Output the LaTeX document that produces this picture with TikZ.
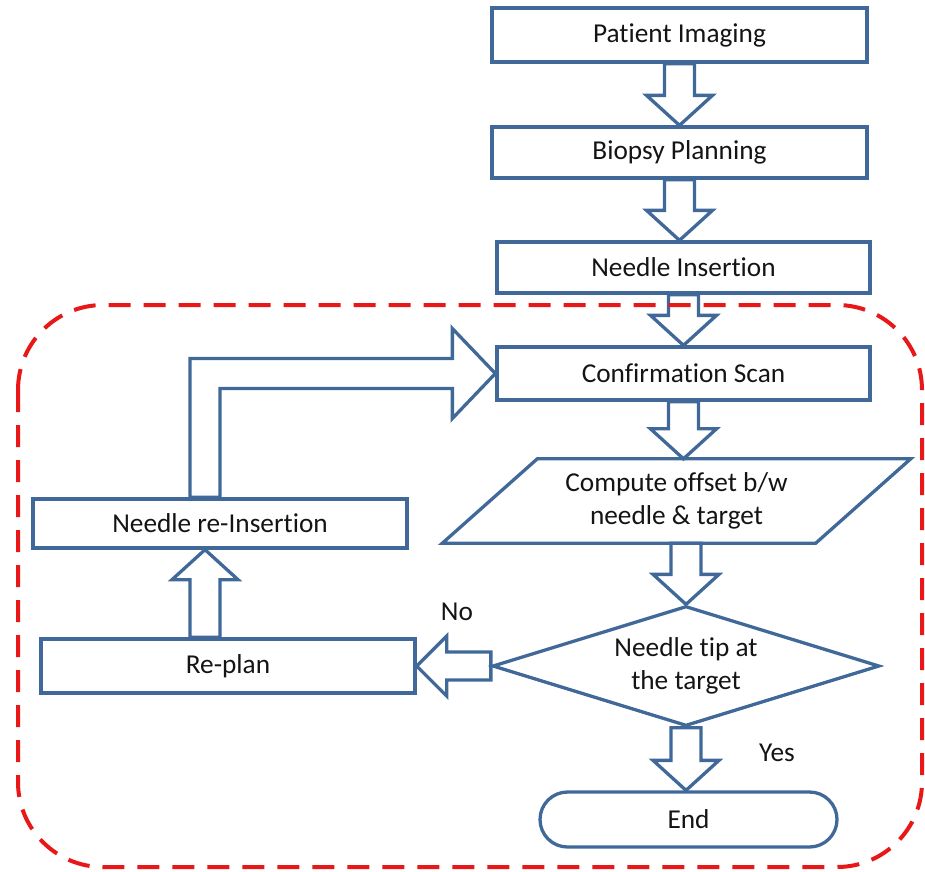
\documentclass[tikz,border=0pt]{standalone}
\usepackage{fontspec}
\setmainfont{Carlito}[Ligatures=NoCommon]
\usetikzlibrary{shapes.geometric,shapes.misc,calc}
\definecolor{fcblue}{RGB}{64,104,152}
\definecolor{fcred}{RGB}{232,24,24}
\definecolor{fctext}{RGB}{20,20,20}
\pgfdeclarelayer{bg}
\pgfsetlayers{bg,main}
\newcommand\downblk[2]{%
  \draw[blk] let \p1=#1, \p2=#2 in
    (\x1-15pt,\y1) -- (\x1-15pt,\y2+30pt) -- (\x1-33pt,\y2+30pt) -- (\x1,\y2)
    -- (\x1+33pt,\y2+30pt) -- (\x1+15pt,\y2+30pt) -- (\x1+15pt,\y1) -- cycle;}
\begin{document}
\begin{tikzpicture}[x=1pt,y=-1pt,
  font=\fontsize{27.3}{33}\selectfont, text=fctext,
  box/.style={draw=fcblue, line width=3.3pt, rectangle, inner sep=0pt, align=center},
  blk/.style={draw=fcblue, line width=3.3pt, fill=white, line join=miter},
  lbl/.style={inner sep=0pt, text=fctext, align=center}]
\useasboundingbox (0,0) rectangle (925,871);

\node[box, minimum width=375pt, minimum height=54pt] (pi) at (679.5,35) {Patient Imaging};
\node[box, minimum width=375pt, minimum height=51pt] (bp) at (679.5,152.5) {Biopsy Planning};
\node[box, minimum width=373pt, minimum height=51pt] (ni) at (683.5,267.5) {Needle Insertion};
\node[box, minimum width=373pt, minimum height=53pt] (cs) at (683.5,373.5) {Confirmation Scan};

\node[lbl, minimum width=373pt, minimum height=84pt] (par) at (676.5,501) {Compute offset b/w\\needle \& target};
\draw[fcblue, line width=3.3pt, line join=miter]
  ([xshift=47.5pt]par.north west) -- ([xshift=47.5pt]par.north east)
  -- ([xshift=-47.5pt]par.south east) -- ([xshift=-47.5pt]par.south west) -- cycle;

\node[draw=fcblue, line width=3.3pt, diamond, minimum width=387pt, minimum height=120pt,
  aspect=3.2, inner sep=0pt, align=center] (dia) at (686,666) {Needle tip at\\the target};

\node[draw=fcblue, line width=3.3pt, rounded rectangle, minimum width=297pt,
  minimum height=55pt, inner sep=0pt] (end) at (688.5,819.5) {End};

\node[box, minimum width=374pt, minimum height=54pt] (rp) at (228,666) {Re-plan};
\node[box, minimum width=374pt, minimum height=49pt] (ri) at (220,523.5) {Needle re-Insertion};

\node[lbl] (no) at (457,612) {No};
\node[lbl] (yes) at (777,753) {Yes};

\begin{pgfonlayer}{bg}
\downblk{(pi.south)}{(bp.north)}
\downblk{(bp.south)}{(ni.north)}
\downblk{(ni.south)}{(cs.north)}
\downblk{(cs.south)}{(par.north)}
\downblk{(par.south -| dia.north)}{(dia.north)}
\downblk{(dia.south)}{(end.north)}
% Re-plan -> Needle re-Insertion
\draw[blk] let \p1=(rp.north), \p2=(ri.south) in
  (\x2-30pt,\y1) -- (\x2-30pt,\y2-30pt) -- (\x2-48pt,\y2-30pt) -- (\x2-15pt,\y2)
  -- (\x2+18pt,\y2-30pt) -- (\x2,\y2-30pt) -- (\x2,\y1) -- cycle;
% No: diamond -> Re-plan
\draw[blk] let \p1=(dia.west), \p2=(rp.east) in
  (\x1,\y2+14pt) -- (\x2+30pt,\y2+14pt) -- (\x2+30pt,\y2+30pt) -- (\x2,\y2)
  -- (\x2+30pt,\y2-30pt) -- (\x2+30pt,\y2-14pt) -- (\x1,\y2-14pt) -- cycle;
% Needle re-Insertion -> Confirmation Scan
\draw[blk] let \p1=(ri.north), \p2=(cs.west) in
  (\x1-30pt,\y1) -- (\x1-30pt,\y2+15pt) -- (\x2-43pt,\y2+15pt) -- (\x2-43pt,\y2+45pt)
  -- (\x2,\y2) -- (\x2-43pt,\y2-45pt) -- (\x2-43pt,\y2-15pt) -- (\x1,\y2-15pt)
  -- (\x1,\y1) -- cycle;
\end{pgfonlayer}

\draw[fcred, line width=4pt, dash pattern=on 22pt off 13pt, rounded corners=85pt]
  (18,305) rectangle (922,867);
\end{tikzpicture}
\end{document}
